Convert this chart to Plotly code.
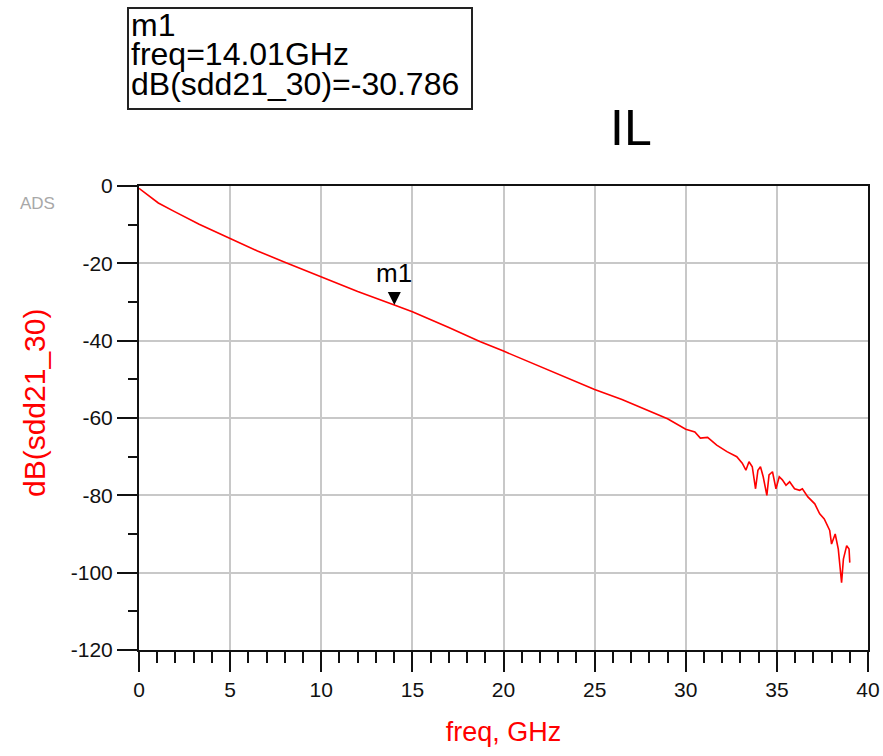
import plotly.graph_objects as go

# ---- data ----
freq_ghz = [0, 0.3, 0.6, 1.06, 1.9, 2.5, 3.3, 5.0, 6.5, 8.0, 10.0, 12.0, 14.01, 15.0, 17.0,
            18.7, 20.0, 22.2, 25.0, 26.5, 27.9, 29.0, 30.0, 30.5, 30.8, 31.2, 31.7,
            32.26, 32.8, 33.1, 33.3, 33.47, 33.65, 33.83, 33.96, 34.1, 34.25, 34.45,
            34.57, 34.76, 34.95, 35.13, 35.3, 35.5, 35.7, 35.97, 36.25, 36.4, 36.7,
            37.08, 37.35, 37.6, 37.9, 38.0, 38.2, 38.37, 38.55, 38.65, 38.83, 38.96, 39.0]
db_sdd21 = [-0.6, -1.7, -2.9, -4.4, -6.5, -7.9, -9.9, -13.6, -16.8, -19.7, -23.6, -27.3, -30.786,
            -32.5, -36.6, -40.2, -42.7, -47.0, -52.6, -55.2, -57.9, -60.2, -62.9, -63.6,
            -65.2, -65.0, -67.0, -68.7, -70.0, -71.7, -73.5, -71.3, -72.6, -78.3, -73.5,
            -72.6, -75.2, -80.0, -74.7, -73.9, -78.3, -75.2, -76.0, -77.4, -76.5, -78.3,
            -78.7, -78.3, -80.4, -82.2, -84.8, -86.1, -89.1, -92.6, -90.0, -93.9, -102.6,
            -96.5, -93.0, -93.9, -97.4]

marker_name = "m1"
marker_freq = 14.01
marker_db = -30.786

x_tick_vals = [0, 5, 10, 15, 20, 25, 30, 35, 40]
x_tick_text = ["0", "5", "10", "15", "20", "25", "30", "35", "40"]
y_tick_vals = [0, -20, -40, -60, -80, -100, -120]
y_tick_text = ["0", "-20", "-40", "-60", "-80", "-100", "-120"]

title_text = "IL"
x_title = "freq, GHz"
y_title = "dB(sdd21_30)"

FONT = "Liberation Sans, Arial, sans-serif"

# the page body margin is removed (post_script below), so the figure fills the window exactly
W, H = 883, 756
L, T = 139, 186
R = W - 868
B = H - 650
PW, PH = W - L - R, H - T - B


def px_x(px):
    return (px - L) / PW


def px_y(py):
    return (H - B - py) / PH


fig = go.Figure()
fig.add_trace(go.Scatter(
    x=freq_ghz, y=db_sdd21, mode="lines",
    line=dict(color="#ff0000", width=1.6),
    hoverinfo="skip", showlegend=False,
))

axis_common = dict(
    showline=True, linecolor="#111111", linewidth=2, mirror=True,
    showgrid=True, gridcolor="#c8c8c8", gridwidth=1.6,
    zeroline=False, ticks="outside", tickcolor="#111111", tickwidth=2,
    ticklen=20, tickmode="array", automargin=False, ticklabeloverflow="allow",
    tickfont=dict(family=FONT, size=21, color="#111111"),
)

fig.update_layout(
    width=W, height=H,
    margin=dict(l=L, r=R, t=T, b=B),
    paper_bgcolor="white", plot_bgcolor="white",
    showlegend=False,
    xaxis=dict(
        axis_common, range=[0, 40], tickvals=x_tick_vals, ticktext=x_tick_text,
        minor=dict(dtick=1, ticks="outside", ticklen=11, tickwidth=2,
                   tickcolor="#111111", showgrid=False),
        title=dict(text=x_title, font=dict(family=FONT, size=27, color="#ff0000"),
                   standoff=22),
    ),
    yaxis=dict(
        axis_common, range=[-120, 0], tickvals=y_tick_vals, ticktext=y_tick_text,
        minor=dict(dtick=10, ticks="outside", ticklen=9, tickwidth=2,
                   tickcolor="#111111", showgrid=False),
    ),
)

# y axis title (sits a little above the plot centre in the reference)
fig.add_annotation(text=y_title, xref="paper", yref="paper",
                   x=px_x(34), y=px_y(403), textangle=-90,
                   xanchor="center", yanchor="middle", showarrow=False,
                   font=dict(family=FONT, size=30, color="#ff0000"))

# chart title
fig.add_annotation(text=title_text, xref="paper", yref="paper",
                   x=px_x(631), y=px_y(128),
                   xanchor="center", yanchor="middle", showarrow=False,
                   font=dict(family=FONT, size=50, color="black"))

# ADS watermark
fig.add_annotation(text="ADS", xref="paper", yref="paper",
                   x=px_x(37), y=px_y(203),
                   xanchor="center", yanchor="middle", showarrow=False,
                   font=dict(family=FONT, size=17, color="#a8a8a8"))

# marker readout box
fig.add_shape(type="rect", xref="paper", yref="paper",
              x0=px_x(128), x1=px_x(472), y0=px_y(109), y1=px_y(8),
              line=dict(color="#222222", width=2), fillcolor="white", layer="above")
box_lines = [marker_name, f"freq={marker_freq:.2f}GHz", f"dB({y_title[3:-1]})={marker_db:.3f}"]
for i, line in enumerate(box_lines):
    fig.add_annotation(text=line, xref="paper", yref="paper",
                       x=px_x(129), y=px_y(25 + 29.5 * i),
                       xanchor="left", yanchor="middle", showarrow=False,
                       font=dict(family=FONT, size=32, color="black"))

# marker triangle on the curve
fig.add_annotation(x=marker_freq, y=marker_db, xref="x", yref="y",
                   text="", showarrow=True, arrowhead=2, arrowsize=2.6,
                   arrowwidth=1, arrowcolor="black", ax=0, ay=-10, standoff=0)
fig.add_annotation(x=marker_freq, y=marker_db, xref="x", yref="y",
                   text=marker_name, showarrow=False, yanchor="middle", yshift=32,
                   font=dict(family=FONT, size=26, color="black"))

fig.write_html(
    "out.html",
    config={"displayModeBar": False},
    post_script="document.body.style.margin='0';document.body.style.overflow='hidden';",
)
